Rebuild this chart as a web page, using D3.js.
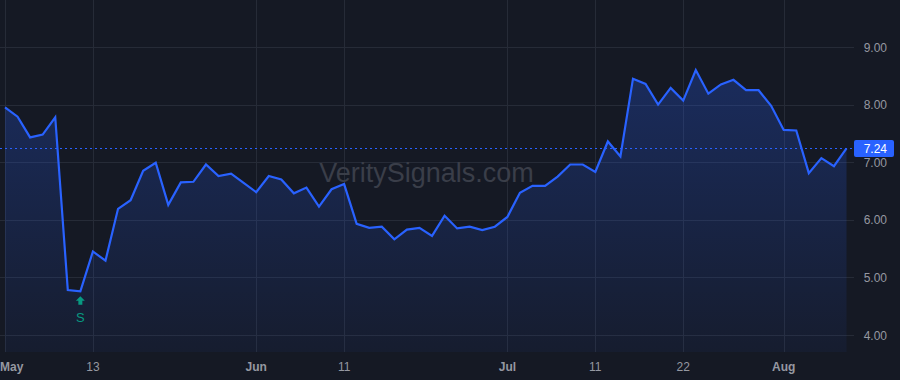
<!DOCTYPE html>
<html>
<head>
<meta charset="utf-8">
<script src="https://cdn.jsdelivr.net/npm/d3@7"></script>
<style>
  html, body { margin: 0; padding: 0; background: #151924; }
  svg { display: block; }
</style>
</head>
<body>
<div id="chart"></div>
<script>
// ---- Data ----
const values = [
  7.95, 7.79, 7.43, 7.48, 7.78, 4.78, 4.76, 5.45, 5.29, 6.19,
  6.34, 6.85, 6.99, 6.26, 6.65, 6.66, 6.96, 6.76, 6.80, 6.64,
  6.48, 6.76, 6.70, 6.46, 6.56, 6.23, 6.53, 6.62, 5.93, 5.86,
  5.88, 5.66, 5.83, 5.86, 5.72, 6.07, 5.85, 5.88, 5.82, 5.88,
  6.05, 6.47, 6.59, 6.59, 6.75, 6.96, 6.96, 6.83, 7.36, 7.10,
  8.45, 8.36, 8.00, 8.29, 8.07, 8.60, 8.19, 8.35, 8.43, 8.25,
  8.25, 7.98, 7.56, 7.55, 6.81, 7.07, 6.93, 7.24
];
const tickPositions = [0, 7, 20, 27, 40, 47, 54, 62];
const tickLabels = ["May", "13", "Jun", "11", "Jul", "11", "22", "Aug"];
const monthLabels = ["May", "Jun", "Jul", "Aug"];
const yTicks = [4, 5, 6, 7, 8, 9];
const lastPrice = 7.24;
const signalIndex = 6;
const signalLabel = "S";
const watermark = "VeritySignals.com";

// ---- Layout ----
const W = 900, H = 380;
const plotRight = 854, plotBottom = 352;
const font = "'Liberation Sans', Arial, sans-serif";

const svg = d3.select("#chart").append("svg")
  .attr("width", W).attr("height", H);

svg.append("rect").attr("width", W).attr("height", H).attr("fill", "#151924");

const x = d3.scaleLinear().domain([0, values.length - 1]).range([5, 846.5]);
const y = d3.scaleLinear().domain([4, 9]).range([335, 47]);

// gridlines
const grid = svg.append("g");
grid.selectAll("line.h").data(yTicks).join("line")
  .attr("x1", 0).attr("x2", plotRight)
  .attr("y1", d => Math.round(y(d)) + 0.5).attr("y2", d => Math.round(y(d)) + 0.5)
  .attr("stroke", "#262b37").attr("stroke-width", 1);
grid.selectAll("line.v").data(tickPositions).join("line")
  .attr("x1", d => Math.round(x(d)) + 0.5).attr("x2", d => Math.round(x(d)) + 0.5)
  .attr("y1", 0).attr("y2", plotBottom)
  .attr("stroke", "#262b37").attr("stroke-width", 1);

// watermark
svg.append("text")
  .attr("x", 426.5).attr("y", 181.5)
  .attr("text-anchor", "middle")
  .attr("font-family", font).attr("font-size", 27)
  .attr("fill", "#3a3e49")
  .text(watermark);

// gradient fill
const defs = svg.append("defs");
const grad = defs.append("linearGradient").attr("id", "fillGrad")
  .attr("gradientUnits", "userSpaceOnUse")
  .attr("x1", 0).attr("y1", y(d3.max(values))).attr("x2", 0).attr("y2", plotBottom);
grad.append("stop").attr("offset", 0).attr("stop-color", "#2962ff").attr("stop-opacity", 0.26);
grad.append("stop").attr("offset", 1).attr("stop-color", "#2962ff").attr("stop-opacity", 0.05);

const area = d3.area()
  .x((d, i) => x(i)).y0(plotBottom).y1(d => y(d));
svg.append("path").datum(values)
  .attr("d", area).attr("fill", "url(#fillGrad)");

const line = d3.line().x((d, i) => x(i)).y(d => y(d));
svg.append("path").datum(values)
  .attr("d", line).attr("fill", "none")
  .attr("stroke", "#2962ff").attr("stroke-width", 2.2)
  .attr("stroke-linejoin", "miter");

// last price dashed line
svg.append("line")
  .attr("x1", 0).attr("x2", plotRight)
  .attr("y1", Math.round(y(lastPrice)) + 0.5).attr("y2", Math.round(y(lastPrice)) + 0.5)
  .attr("stroke", "#2962ff").attr("stroke-width", 1)
  .attr("stroke-dasharray", "2,3");

// right axis labels
svg.append("g").selectAll("text").data(yTicks).join("text")
  .attr("x", 887).attr("y", d => y(d) + 4.5)
  .attr("text-anchor", "end")
  .attr("font-family", font).attr("font-size", 12)
  .attr("fill", "#9598a1")
  .text(d => d.toFixed(2));

// price label box
const py = y(lastPrice);
svg.append("rect")
  .attr("x", 854).attr("y", py - 8.5).attr("width", 40).attr("height", 17)
  .attr("rx", 2).attr("fill", "#2962ff");
svg.append("text")
  .attr("x", 887).attr("y", py + 4.5)
  .attr("text-anchor", "end")
  .attr("font-family", font).attr("font-size", 12)
  .attr("fill", "#ffffff")
  .text(lastPrice.toFixed(2));

// bottom axis labels
svg.append("g").selectAll("text").data(tickPositions).join("text")
  .attr("x", d => x(d) < 14 ? 0 : x(d))
  .attr("text-anchor", d => x(d) < 14 ? "start" : "middle")
  .attr("y", 371)
  .attr("font-family", font).attr("font-size", 12)
  .attr("font-weight", (d, i) => monthLabels.includes(tickLabels[i]) ? "bold" : "normal")
  .attr("fill", "#9598a1")
  .text((d, i) => tickLabels[i]);

// signal marker
const sx = x(signalIndex);
const sy = y(values[signalIndex]);
const ay = sy + 5;
svg.append("path")
  .attr("d", `M${sx},${ay} L${sx + 4.5},${ay + 4.5} L${sx + 2},${ay + 4.5} L${sx + 2},${ay + 8.5} L${sx - 2},${ay + 8.5} L${sx - 2},${ay + 4.5} L${sx - 4.5},${ay + 4.5} Z`)
  .attr("fill", "#089981");
svg.append("text")
  .attr("x", sx).attr("y", sy + 30.5)
  .attr("text-anchor", "middle")
  .attr("font-family", font).attr("font-size", 13)
  .attr("fill", "#089981")
  .text(signalLabel);
</script>
</body>
</html>
